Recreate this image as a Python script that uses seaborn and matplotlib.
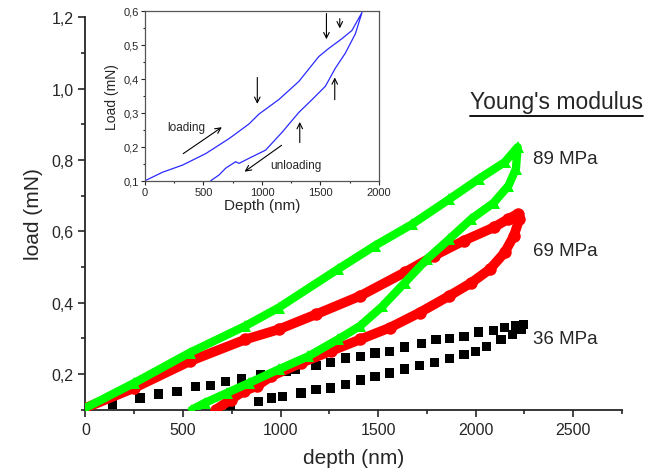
import pandas as pd
import matplotlib
matplotlib.use("Agg")
import matplotlib.pyplot as plt
from matplotlib.lines import Line2D
from matplotlib.ticker import MultipleLocator, FuncFormatter
import seaborn as sns

# 89 MPa sample (green triangles): loading then unloading
green_depth = [0, 250, 535, 820, 990, 1294, 1484, 1674, 1864, 2016, 2149, 2215,
               2206, 2168, 2092, 1978, 1864, 1750, 1636, 1522, 1408, 1294, 1143,
               990, 839, 725, 611, 545]
green_load = [0.105, 0.175, 0.26, 0.335, 0.386, 0.494, 0.56, 0.62, 0.69, 0.747, 0.794, 0.836,
              0.775, 0.728, 0.68, 0.635, 0.578, 0.522, 0.456, 0.39, 0.335, 0.297, 0.25,
              0.213, 0.175, 0.147, 0.119, 0.10]

# 69 MPa sample (red circles)
red_depth = [0, 250, 535, 820, 990, 1180, 1408, 1636, 1788, 1940, 2092, 2168, 2215,
             2224, 2196, 2149, 2073, 1978, 1864, 1712, 1560, 1408, 1256, 1105,
             953, 877, 810, 744, 668]
red_load = [0.105, 0.161, 0.236, 0.297, 0.325, 0.367, 0.419, 0.485, 0.532, 0.574, 0.611, 0.635, 0.649,
            0.635, 0.588, 0.541, 0.494, 0.456, 0.419, 0.372, 0.33, 0.297, 0.264, 0.231,
            0.194, 0.166, 0.152, 0.128, 0.10]

# 36 MPa sample (black squares)
black_depth = [0, 137, 279, 374, 469, 564, 640, 716, 801, 896, 1029, 1076, 1181, 1256,
               1332, 1408, 1484, 1560, 1636, 1721, 1797, 1864, 1940, 2016, 2092, 2149,
               2206, 2243,
               2234, 2187, 2130, 2054, 1997, 1940, 1864, 1788, 1712, 1636, 1560, 1484,
               1408, 1332, 1256, 1181, 1105, 1010, 953, 886, 744]
black_load = [0.10, 0.116, 0.133, 0.144, 0.152, 0.164, 0.168, 0.180, 0.186, 0.198, 0.208, 0.214,
              0.224, 0.233, 0.245, 0.250, 0.259, 0.264, 0.276, 0.286, 0.297, 0.299, 0.306,
              0.318, 0.323, 0.330, 0.335, 0.339,
              0.325, 0.311, 0.297, 0.278, 0.264, 0.255, 0.243, 0.233, 0.224, 0.214, 0.203,
              0.194, 0.183, 0.170, 0.161, 0.156, 0.147, 0.138, 0.133, 0.123, 0.105]

# inset: single blue loading / unloading curve
inset_depth = [0, 150, 321, 520, 719, 889, 974, 1145, 1315, 1485, 1570, 1684, 1769, 1855,
               1798, 1712, 1627, 1542, 1429, 1315, 1173, 1031, 889, 804, 775, 690, 633, 562]
inset_load = [0.10, 0.125, 0.146, 0.18, 0.224, 0.267, 0.296, 0.339, 0.392, 0.465, 0.489, 0.518, 0.542, 0.595,
              0.532, 0.475, 0.431, 0.378, 0.339, 0.301, 0.243, 0.19, 0.166, 0.151, 0.156, 0.137, 0.117, 0.10]

modulus_labels = ["89 MPa", "69 MPa", "36 MPa"]

sns.set_style("ticks")
plt.rcParams['font.family'] = ['Liberation Sans', 'DejaVu Sans']

comma = FuncFormatter(lambda v, p: f"{v:.1f}".replace('.', ','))

fig = plt.figure(figsize=(6.6, 4.77), dpi=100)
ax = fig.add_axes([0.1295, 0.139, 0.813, 0.8226])

black = pd.DataFrame({'depth': black_depth, 'load': black_load})
sns.scatterplot(data=black, x='depth', y='load', marker='s', s=44, color='black',
                edgecolor='none', ax=ax, zorder=3)

red = pd.DataFrame({'depth': red_depth, 'load': red_load})
sns.lineplot(data=red, x='depth', y='load', sort=False, estimator=None, color='#ff0000',
             lw=7, marker='o', markersize=9, markeredgewidth=0, ax=ax, zorder=4)

green = pd.DataFrame({'depth': green_depth, 'load': green_load})
sns.lineplot(data=green, x='depth', y='load', sort=False, estimator=None, color='#00ff00',
             lw=6, marker='^', markersize=9, markeredgewidth=0, ax=ax, zorder=5)

ax.set_xlim(0, 2750)
ax.set_ylim(0.1, 1.2)
ax.xaxis.set_major_locator(MultipleLocator(500))
ax.xaxis.set_minor_locator(MultipleLocator(250))
ax.yaxis.set_minor_locator(MultipleLocator(0.1))
ax.set_yticks([0.2, 0.4, 0.6, 0.8, 1.0, 1.2])
ax.yaxis.set_major_formatter(comma)
ax.tick_params(which='major', length=5, width=1.2, labelsize=11.5, direction='out')
ax.tick_params(which='minor', length=3, width=1.2, direction='out')
for s in ['left', 'bottom']:
    ax.spines[s].set_linewidth(1.3)
sns.despine(ax=ax)
ax.set_xlabel('depth (nm)', fontsize=15, labelpad=8)
ax.set_ylabel('load (mN)', fontsize=15, labelpad=6)

# annotations on the right
W, H = 660, 477
fig.text(556 / W, 1 - 103 / H, "Young's modulus", fontsize=16.5, ha='center', va='center')
fig.add_artist(Line2D([470 / W, 643 / W], [1 - 117 / H, 1 - 117 / H], color='black', lw=1.3))
for lab, yp in zip(modulus_labels, [160, 252, 340]):
    fig.text(533 / W, 1 - yp / H, lab, fontsize=13.5, ha='left', va='center')

# inset
ins = fig.add_axes([0.2197, 0.619, 0.3545, 0.3564])
curve = pd.DataFrame({'depth': inset_depth, 'load': inset_load})
sns.lineplot(data=curve, x='depth', y='load', sort=False, estimator=None, color='#2a2aff',
             lw=0.9, ax=ins)
ins.set_xlim(0, 2000)
ins.set_ylim(0.1, 0.6)
ins.xaxis.set_major_locator(MultipleLocator(500))
ins.xaxis.set_minor_locator(MultipleLocator(250))
ins.yaxis.set_major_locator(MultipleLocator(0.1))
ins.yaxis.set_minor_locator(MultipleLocator(0.05))
ins.yaxis.set_major_formatter(comma)
ins.tick_params(which='major', length=3, width=0.8, labelsize=8, direction='out', pad=1.5)
ins.tick_params(which='minor', length=1.5, width=0.8, direction='out')
for s in ins.spines.values():
    s.set_linewidth(0.9)
    s.set_color('#555555')
ins.set_xlabel('Depth (nm)', fontsize=11, labelpad=1)
ins.set_ylabel('Load (mN)', fontsize=10, labelpad=3)

arrow = dict(arrowstyle='->', color='black', lw=0.8)
for x0, y0, x1, y1 in [(960, 0.412, 960, 0.318), (1551, 0.60, 1551, 0.508),
                       (1665, 0.585, 1665, 0.540), (1622, 0.33, 1622, 0.412),
                       (1323, 0.204, 1323, 0.281), (307, 0.175, 676, 0.262),
                       (1187, 0.209, 832, 0.122)]:
    ins.annotate('', xy=(x1, y1), xytext=(x0, y0), arrowprops=arrow)
ins.text(349, 0.257, 'loading', fontsize=8.5, ha='center', va='center')
ins.text(1287, 0.146, 'unloading', fontsize=8.5, ha='center', va='center')

fig.savefig('out.png', dpi=100)
